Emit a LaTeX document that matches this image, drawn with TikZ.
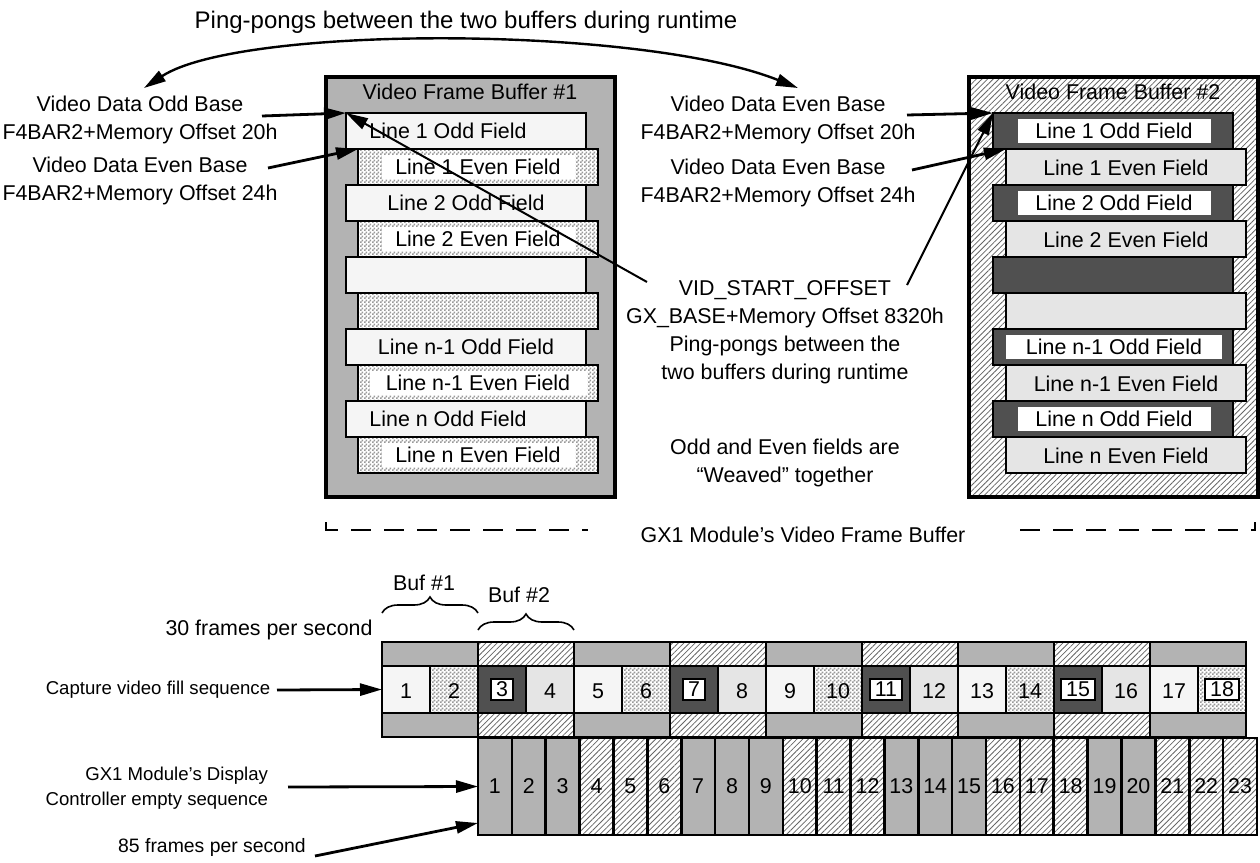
\documentclass[tikz,border=0pt]{standalone}
\usepackage{fontspec}
\setmainfont{Liberation Sans}
\usetikzlibrary{arrows.meta,patterns,patterns.meta,decorations.pathreplacing}

\definecolor{bufgray}{HTML}{B3B3B3}
\definecolor{fieldpale}{HTML}{F5F5F5}
\definecolor{fieldlight}{HTML}{E5E5E5}
\definecolor{fielddark}{HTML}{505050}

\pgfdeclarepatternformonly{finecheck}{\pgfqpoint{0pt}{0pt}}{\pgfqpoint{2pt}{2pt}}{\pgfqpoint{2pt}{2pt}}{%
  \pgfpathrectangle{\pgfqpoint{0pt}{0pt}}{\pgfqpoint{1pt}{1pt}}%
  \pgfpathrectangle{\pgfqpoint{1pt}{1pt}}{\pgfqpoint{1pt}{1pt}}%
  \pgfusepath{fill}}

\begin{document}
\begin{tikzpicture}[
    x=0.5pt, y=-0.5pt,
    every node/.style={font=\fontsize{10.7}{14}\selectfont, inner sep=0pt, outer sep=0pt},
    small/.style={font=\fontsize{9.3}{12.5}\selectfont},
    ptr/.style={line width=1.4pt, -{Triangle[length=11pt,width=6pt]}},
    thinptr/.style={line width=1pt, -{Triangle[length=11pt,width=6pt]}},
    bufline/.style={line width=2pt},
    frameline/.style={line width=1pt, dash pattern=on 10pt off 6.5pt},
    hatch/.style={preaction={fill=white}, pattern={Lines[angle=45,distance=2pt,line width=0.4pt]}, pattern color=black!60},
    check/.style={preaction={fill=white}, pattern=finecheck, pattern color=black!40},
    gfill/.style={fill=bufgray},
    palefill/.style={fill=fieldpale},
    ltfill/.style={fill=fieldlight},
    dkfill/.style={fill=fielddark},
    rowbox/.style={draw, line width=1.3pt, minimum width=120pt, minimum height=18pt, anchor=north west},
    whitebox/.style={fill=white, minimum height=12pt},
    segbox/.style={draw, line width=1.3pt, minimum width=48pt, minimum height=12pt, anchor=north west},
    capbox/.style={draw, line width=1.3pt, minimum width=24pt, minimum height=23.5pt, anchor=north west},
    numbox/.style={draw, fill=white, line width=1.2pt, inner xsep=2.5pt, inner ysep=1.5pt},
    dspbox/.style={draw, line width=1.3pt, minimum width=16.935pt, minimum height=48.5pt, anchor=north west},
    bracestyle/.style={line width=0.8pt, decorate, decoration={brace, amplitude=8pt}}
]
  \useasboundingbox (0,0) rectangle (1260,863);
  \def\rowtop{113}
  \def\rowh{36}

  % video frame buffer #1
  \draw[bufline, fill=bufgray] (326,77) rectangle (615,497);
  \node (title1) at (470,92) {Video Frame Buffer \#1};
  \foreach \r in {0,2,4,6,8}
    \node[rowbox, palefill] (b1r\r) at (346,\rowtop+\rowh*\r) {};
  \foreach \r in {1,3,5,7,9}
    \node[rowbox, check] (b1r\r) at (358,\rowtop+\rowh*\r) {};
  \foreach \x/\y/\t [count=\i] in {%
    448/131/Line 1 Odd Field, 466/203/Line 2 Odd Field,
    466/347/Line n-1 Odd Field, 448/419/Line n Odd Field}
    \node (b1o\i) at (\x,\y) {\t};
  \foreach \y/\w/\t [count=\i] in {%
    167/96.5pt/Line 1 Even Field, 239/96.5pt/Line 2 Even Field,
    383/108.5pt/Line n-1 Even Field, 455/96.5pt/Line n Even Field}
    \node[whitebox, minimum width=\w] (b1e\i) at (478,\y) {\t};

  % video frame buffer #2
  \draw[bufline, hatch] (969,77) rectangle (1258,497);
  \node (title2) at (1113,92) {Video Frame Buffer \#2};
  \foreach \r in {0,2,4,6,8}
    \node[rowbox, dkfill] (b2r\r) at (993,\rowtop+\rowh*\r) {};
  \foreach \r in {1,3,5,7,9}
    \node[rowbox, ltfill] (b2r\r) at (1006,\rowtop+\rowh*\r) {};
  \foreach \y/\w/\t [count=\i] in {%
    131/96.5pt/Line 1 Odd Field, 203/96.5pt/Line 2 Odd Field,
    347/108pt/Line n-1 Odd Field, 419/96.5pt/Line n Odd Field}
    \node[whitebox, minimum width=\w] (b2o\i) at (1114,\y) {\t};
  \foreach \y/\t [count=\i] in {%
    168/Line 1 Even Field, 240/Line 2 Even Field,
    384/Line n-1 Even Field, 456/Line n Even Field}
    \node (b2e\i) at (1126,\y) {\t};

  % labels round the buffers
  \node[font=\fontsize{12}{14}\selectfont] (ping) at (466,22) {Ping-pongs between the two buffers during runtime};
  \node[align=center] (oddlbl) at (140,120) {Video Data Odd Base\\F4BAR2+Memory Offset 20h};
  \node[align=center] (evenlbl) at (140,181) {Video Data Even Base\\F4BAR2+Memory Offset 24h};
  \node[align=center] (odd2lbl) at (778,120) {Video Data Even Base\\F4BAR2+Memory Offset 20h};
  \node[align=center] (even2lbl) at (778,183) {Video Data Even Base\\F4BAR2+Memory Offset 24h};
  \node[align=center] (vidlbl) at (785,332)
    {VID\_START\_OFFSET\\GX\_BASE+Memory Offset 8320h\\Ping-pongs between the\\two buffers during runtime};
  \node[align=center] (weave) at (785,463) {Odd and Even fields are\\“Weaved” together};
  \node (gxbuf) at (803,535) {GX1 Module’s Video Frame Buffer};

  \coordinate (ppl) at (144,88);
  \coordinate (ppr) at (798,88);
  \coordinate (oddend) at (262,116);
  \coordinate (evenend) at (268,168);
  \coordinate (odd2end) at (907,115);
  \coordinate (even2end) at (912,170);
  \coordinate (vidl) at (647,282);
  \coordinate (vidr) at (907,285);

  \draw[line width=1.2pt, {Triangle[length=11pt,width=6pt]}-{Triangle[length=11pt,width=6pt]}]
    (ppl) .. controls (240,25) and (640,25) .. (ppr);
  \draw[ptr] (oddend) -- (b1r0.north west);
  \draw[ptr] (evenend) -- (b1r1.north west);
  \draw[ptr] (odd2end) -- (b2r0.north west);
  \draw[ptr] (even2end) -- (b2r1.north west);
  \draw[thinptr] (vidl) -- (b1r0.north west);
  \draw[thinptr] (vidr) -- (b2r0.north west);

  \draw[frameline] (326,522) -- (326,530) -- (588,530);
  \draw[frameline] (1020,530) -- (1255,530) -- (1255,522);

  % capture sequence, 30 frames per second
  \node (fps30) at (269,630) {30 frames per second};
  \node[small] (caplbl) at (158,690) {Capture video fill sequence};
  \draw[bracestyle] (382,613) -- (478,613);
  \draw[bracestyle] (478,630) -- (574,630);
  \node (buf1lbl) at (424,583) {Buf \#1};
  \node (buf2lbl) at (519,595) {Buf \#2};

  \foreach \s/\sty in {0/gfill,1/hatch,2/gfill,3/hatch,4/gfill,5/hatch,6/gfill,7/hatch,8/gfill} {
    \node[segbox, \sty] (top\s) at (382+96*\s,642) {};
    \node[segbox, \sty] (bot\s) at (382+96*\s,713) {};
  }
  \foreach \n/\sty in {%
    1/palefill, 2/check, 3/dkfill, 4/ltfill, 5/palefill, 6/check,
    7/dkfill, 8/ltfill, 9/palefill, 10/check, 11/dkfill, 12/ltfill,
    13/palefill, 14/check, 15/dkfill, 16/ltfill, 17/palefill, 18/check}
    \node[capbox, \sty] (cap\n) at (382+48*\n-48,666) {};
  \foreach \n in {1,2,4,5,6,8,9,10,12,13,14,16,17}
    \node (capt\n) at ([yshift=-1pt]cap\n.center) {\n};
  \foreach \n in {3,7,11,15,18}
    \node[numbox] (capt\n) at (cap\n.center) {\n};

  % display controller sequence, 85 frames per second
  \node[align=right, small, anchor=east] (dsplbl) at (268,788)
    {GX1 Module’s Display\\Controller empty sequence};
  \node[font=\fontsize{9.7}{12}\selectfont] (fps85) at (212,847) {85 frames per second};
  \foreach \n/\sty in {%
    1/gfill, 2/gfill, 3/gfill, 4/hatch, 5/hatch, 6/hatch, 7/gfill, 8/gfill,
    9/gfill, 10/hatch, 11/hatch, 12/hatch, 13/gfill, 14/gfill, 15/gfill,
    16/hatch, 17/hatch, 18/hatch, 19/gfill, 20/gfill, 21/hatch, 22/hatch, 23/hatch}
    \node[dspbox, \sty] (dsp\n) at (478+33.87*\n-33.87,738) {\n};

  \coordinate (caparr) at (277,690);
  \coordinate (dsparr) at (288,787);
  \coordinate (fpsarr) at (315,856);
  \draw[ptr] (caparr) -- (cap1.west);
  \draw[ptr] (dsparr) -- (dsp1.west);
  \draw[ptr] (fpsarr) -- ([yshift=6pt]dsp1.south west);
\end{tikzpicture}
\end{document}
